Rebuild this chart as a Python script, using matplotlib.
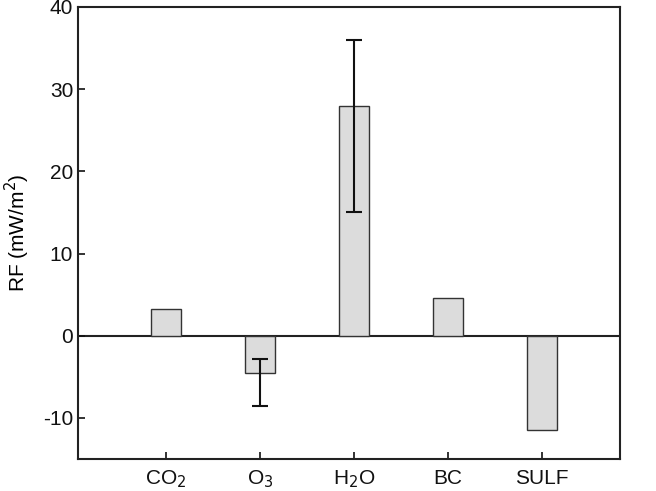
import matplotlib.pyplot as plt
import numpy as np

plt.rcParams['font.family'] = ['Liberation Sans', 'DejaVu Sans']

# data
labels = ["CO$_2$", "O$_3$", "H$_2$O", "BC", "SULF"]
rf = [3.2, -4.5, 28.0, 4.6, -11.5]
# error bar ends (absolute values), None = no error bar
err_lo = [None, -8.6, 15.0, None, None]
err_hi = [None, -2.8, 36.0, None, None]

x = np.arange(1, len(rf) + 1)

fig = plt.figure(figsize=(6.56, 4.91), dpi=100)
ax = fig.add_axes([0.119, 0.065, 0.826, 0.921])

ax.bar(x, rf, width=0.32, color="#dcdcdc", edgecolor="#333333", linewidth=1.0, zorder=2)

for xi, lo, hi in zip(x, err_lo, err_hi):
    if lo is None:
        continue
    mid = (lo + hi) / 2
    half = (hi - lo) / 2
    ax.errorbar([xi], [mid], yerr=[[half], [half]], fmt="none", ecolor="#111111",
                elinewidth=1.5, capsize=5.5, capthick=1.5, zorder=3)

ax.axhline(0, color="#222222", linewidth=1.5, zorder=1)

ax.set_xlim(0.065, 5.83)
ax.set_ylim(-15, 40)
ax.set_yticks([-10, 0, 10, 20, 30, 40])
ax.set_yticklabels(["-10", "0", "10", "20", "30", "40"])
ax.set_xticks(x)
ax.set_xticklabels(labels)
ax.tick_params(axis="both", direction="in", length=5, width=1.2, labelsize=15, colors="#111111")
ax.tick_params(axis="x", pad=7)
for s in ax.spines.values():
    s.set_linewidth(1.5)
    s.set_color("#222222")

ax.set_ylabel("RF (mW/m$^2$)", fontsize=15, labelpad=8)

fig.savefig("out.png", dpi=100)
